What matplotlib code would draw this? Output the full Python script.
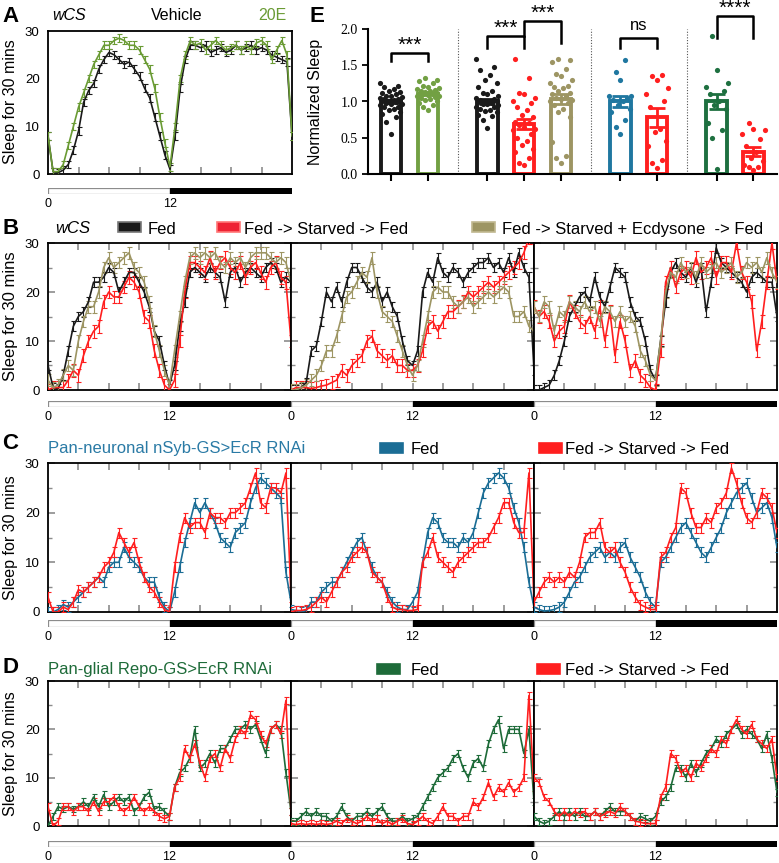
import numpy as np
import matplotlib.pyplot as plt
from matplotlib.patches import Rectangle

plt.rcParams['font.family'] = ['Liberation Sans', 'DejaVu Sans']

# ---------------- data (sleep per 30 min bin, 0..24 h every 0.5 h) ----------------
a_vehicle = [8, 0.5, 0.3, 0.8, 2, 5, 9, 15, 17.5, 19, 22, 24, 25.5, 25, 24, 23, 23.5, 22, 20.5, 18, 16, 12, 8, 4, 1,
             8, 18, 24, 27, 27, 26.5, 27, 25.5, 26, 26.5, 25.5, 26, 27, 26, 26.5, 27, 26, 26.5, 26, 25, 24.5, 24, 23.5, 8]
a_20e = [8, 0.5, 0.5, 2, 6, 10, 14, 17, 20, 23, 25, 27, 27, 28, 28.5, 28, 27, 27, 26, 24, 22, 18, 12, 6.5, 1.5,
         10, 20, 25, 28, 27, 27.5, 26, 27, 28, 27, 26, 26.5, 27, 26, 27, 26, 27.5, 28, 27, 24, 26, 28, 25, 8]

b_fed = [
    [5, 0.5, 0.3, 3, 8, 13, 15, 16, 18, 22, 22, 23, 25, 24, 20, 22, 24, 24, 22, 20, 17, 12, 10, 5, 1,
     5, 13, 18, 24, 25, 24, 23, 25, 24, 23, 18, 24, 25, 22, 24, 25, 24, 23, 25, 26, 25, 22, 23, 22],
    [0, 0, 0.5, 1.5, 8, 9, 14, 20, 18, 21, 18, 22, 25, 25, 23, 21, 20, 22, 18, 20, 17, 15, 10, 6, 5,
     8, 20, 24, 22, 27, 24, 23, 25, 24, 22, 24, 25, 26, 26, 27, 25, 26, 24, 27, 24, 28, 25, 23, 4],
    [0, 0, 0.5, 1, 3, 6, 10, 15, 17, 19, 20, 18, 23, 19, 17, 21, 25, 24, 23, 18, 15, 14, 10, 4, 2,
     10, 18, 24, 26, 24, 23, 25, 22, 25, 16, 22, 29, 26, 25, 24, 23, 22, 20, 23, 24, 23, 22, 22, 15],
]
b_starved = [
    [0, 0.5, 0.5, 0.5, 2, 4, 3, 7, 10, 12, 13, 18, 20, 19, 19, 21, 23, 22, 20, 15, 14, 8, 4, 1, 0,
     2, 10, 20, 26, 26, 25, 24, 27, 24, 26, 27, 25, 24, 26, 23, 25, 26, 24, 22, 25, 26, 23, 22, 10],
    [0, 0.5, 0.5, 0.5, 0.3, 0.5, 0.8, 1, 1.5, 2, 4, 3, 5, 6, 7, 10, 11, 8, 7, 6, 7, 5, 5, 4, 4,
     5, 8, 13, 14, 12, 14, 16, 16, 17, 18, 20, 19, 20, 21, 22, 21, 22, 23, 24, 25, 26, 28, 31, 31],
    [17, 15, 16, 14, 10, 12, 13, 18, 16, 14, 13, 15, 12, 17, 10, 16, 7, 14, 10, 4, 6, 3, 2, 0.5, 0,
     8, 22, 25, 21, 24, 25, 23, 27, 24, 25, 27, 23, 26, 26, 24, 30, 24, 22, 18, 8, 14, 22, 30, 22],
]
b_ecdysone = [
    [2, 0.5, 1, 3, 5, 4, 10, 14, 17, 17, 20, 25, 27, 25, 26, 27, 28, 25, 24, 22, 18, 12, 8, 4, 1,
     8, 15, 22, 27, 28, 27, 28, 27, 28, 26, 25, 27, 26, 27, 25, 27, 28, 28, 28, 27, 26, 27, 26, 22],
    [0, 0, 0.5, 1, 2, 3, 5, 8, 8, 11, 15, 19, 20, 22, 24, 23, 27, 20, 16, 15, 14, 11, 8, 5, 3,
     5, 10, 15, 20, 21, 20, 20, 18, 17, 18, 19, 17, 18, 19, 20, 19, 20, 21, 20, 15, 15, 16, 13, 12],
    [17, 15, 18, 17, 12, 16, 15, 18, 17, 16, 18, 16, 17, 14, 17, 16, 14, 16, 14, 15, 13, 8, 6, 3, 2,
     10, 20, 24, 23, 26, 24, 25, 23, 26, 24, 25, 26, 24, 25, 26, 23, 24, 26, 25, 26, 24, 27, 24, 22],
]

c_fed = [
    [0, 0, 0.5, 1.5, 1, 2, 3, 4, 5, 6, 7, 6, 9, 10, 10, 13, 11, 10, 9, 7, 6, 6, 3, 1, 0,
     4, 9, 14, 18, 22, 20, 22, 20, 18, 15, 14, 13, 16, 17, 18, 22, 25, 27, 26, 25, 24, 23, 8, 2],
    [0.5, 0.3, 0, 0.3, 2, 2, 4, 5, 6, 6, 8, 10, 12, 14, 15, 12, 9, 7, 6, 4, 2, 1, 0.5, 0.5, 2,
     4, 10, 16, 19, 18, 15, 14, 14, 13, 15, 14, 16, 20, 24, 26, 27, 28, 27, 25, 21, 18, 13, 6, 1],
    [1, 0.5, 0.2, 0.3, 0.5, 1, 2, 4, 6, 7, 9, 11, 12, 13, 11, 12, 11, 13, 14, 11, 9, 7, 4, 2, 1,
     10, 11, 13, 15, 17, 18, 16, 14, 12, 11, 13, 15, 17, 20, 22, 24, 25, 26, 23, 20, 21, 22, 19, 13],
]
c_starved = [
    [3, 0, 0, 1, 0.5, 2, 4.5, 4, 5, 6, 7, 9, 10, 12, 16, 14, 12, 14, 10, 7, 5, 4, 2, 0.5, 0,
     9, 15, 19, 17, 18, 18, 16, 20, 19, 19, 18, 20, 20, 21, 22, 25, 28, 22, 21, 25, 25, 24, 28, 3],
    [0, 0.3, 0.3, 0.5, 1, 2, 3, 2, 4, 6, 8, 9, 11, 12, 13, 12, 8, 7, 6, 3, 1, 0.5, 0.5, 0.3, 0.3,
     0.5, 10, 12, 15, 11, 10, 9, 8, 10, 11, 12, 13, 14, 14, 15, 17, 19, 22, 22, 18, 16, 16, 28, 2],
    [2, 4, 6, 7, 6, 7, 6, 8, 7, 10, 15, 16, 16, 18, 13, 12, 13, 10, 8, 5, 3, 1.5, 1, 0.5, 0.5,
     11, 12, 15, 17, 25, 24, 20, 17, 17, 19, 18, 21, 22, 24, 29, 26, 22, 19, 18, 20, 24, 23, 21, 16],
]

d_fed = [
    [0, 2, 4, 3.5, 4, 3.5, 4, 5, 4, 6, 4, 6.5, 4, 5, 6, 5, 6, 3, 4, 6, 7, 3.5, 4, 3, 2,
     8, 11, 12, 14, 20, 12, 13, 15, 13, 16, 16, 18, 20, 20, 21, 20, 21, 18, 15, 20, 21, 20, 11, 3],
    [1, 1, 2, 3, 2, 3, 2, 2, 1, 2, 4, 2, 1, 2, 2, 3, 2, 3, 4, 2, 1, 1, 2, 1, 1.5,
     2, 4, 6, 8, 10, 11, 12, 14, 15, 12, 10, 13, 14, 12, 17, 20, 22, 16, 20, 20, 20, 15, 20, 5],
    [2, 1, 0.5, 1, 2, 3, 2, 3, 2, 3, 2, 2, 3, 2, 3, 4, 3, 3, 3, 2, 1, 2, 1.5, 1, 2,
     5, 6, 8, 12, 12, 10, 13, 11, 13, 15, 16, 18, 17, 19, 20, 21, 19, 20, 19, 18, 16, 19, 14, 7],
]
d_starved = [
    [4, 0, 1, 4, 4, 3, 4, 4, 3, 5, 3, 5, 5, 6, 4, 3, 4, 6, 4, 3, 4, 3, 2, 1.5, 2,
     8, 10, 16, 14, 17, 13, 10, 14, 15, 12, 16, 14, 18, 20, 19, 23, 22, 19, 17, 20, 21, 19, 26, 3],
    [0.5, 0.3, 0.5, 0.3, 0.5, 0.3, 0.5, 0.3, 0.5, 1, 0.5, 1.5, 1, 0.5, 1, 2, 1, 1.5, 0.5, 1, 0.3, 1, 1.5, 0.5, 0.3,
     1, 2, 1, 0.5, 2, 4, 2, 2, 1, 2, 2, 5, 4, 6, 9, 6, 8, 7, 9, 7, 8, 10, 27, 8],
    [10, 9, 6, 5, 3, 2, 3, 2, 3, 2.5, 3, 2, 3, 2, 2.5, 3, 2.5, 4, 3, 2, 1, 0.8, 0.5, 0.5, 0.5,
     6, 8, 15, 14, 11, 12, 10, 13, 12, 14, 16, 15, 18, 17, 20, 22, 20, 19, 21, 18, 17, 16, 18, 10],
]

# panel E: normalized sleep
e_pos = [0, 1, 2.62, 3.62, 4.62, 6.24, 7.24, 8.86, 9.86]
e_means = [1.0, 1.11, 1.0, 0.69, 1.04, 1.0, 0.78, 1.0, 0.31]
e_sems = [0.025, 0.02, 0.03, 0.07, 0.07, 0.07, 0.13, 0.11, 0.06]
e_points = [
    [0.55, 0.72, 0.78, 0.83, 0.85, 0.88, 0.9, 0.92, 0.93, 0.95, 0.96, 0.97, 0.98, 0.99, 1.0, 1.0,
     1.01, 1.02, 1.03, 1.04, 1.05, 1.06, 1.07, 1.08, 1.1, 1.12, 1.13, 1.15, 1.17, 1.2, 1.22, 1.25],
    [0.88, 0.92, 0.95, 0.98, 1.0, 1.02, 1.04, 1.05, 1.06, 1.07, 1.08, 1.09, 1.1, 1.1, 1.11, 1.12,
     1.13, 1.14, 1.15, 1.16, 1.17, 1.18, 1.2, 1.22, 1.25, 1.28, 1.3, 1.32],
    [0.63, 0.75, 0.8, 0.82, 0.85, 0.87, 0.88, 0.9, 0.92, 0.93, 0.95, 0.96, 0.97, 0.98, 0.99, 1.0,
     1.0, 1.01, 1.02, 1.03, 1.05, 1.07, 1.1, 1.12, 1.15, 1.2, 1.25, 1.3, 1.37, 1.43, 1.48, 1.58],
    [0.13, 0.15, 0.22, 0.3, 0.35, 0.4, 0.45, 0.5, 0.55, 0.6, 0.62, 0.65, 0.68, 0.7, 0.72, 0.78,
     0.82, 0.88, 0.92, 0.98, 1.0, 1.05, 1.1, 1.12, 1.33, 1.58],
    [0.15, 0.22, 0.25, 0.44, 0.78, 0.85, 0.9, 0.95, 0.98, 1.0, 1.02, 1.04, 1.05, 1.08, 1.1, 1.12,
     1.15, 1.18, 1.2, 1.22, 1.25, 1.3, 1.35, 1.38, 1.45, 1.55, 1.57, 1.58],
    [0.55, 0.65, 0.75, 0.85, 0.9, 0.95, 1.0, 1.02, 1.05, 1.07, 1.08, 1.3, 1.4, 1.57],
    [0.08, 0.15, 0.2, 0.38, 0.45, 0.58, 0.62, 0.92, 1.0, 1.1, 1.18, 1.3, 1.35, 1.36],
    [0.07, 0.5, 0.6, 0.7, 0.9, 0.95, 1.0, 1.1, 1.15, 1.2, 1.25, 1.44, 1.9],
    [0.05, 0.1, 0.1, 0.12, 0.18, 0.22, 0.3, 0.38, 0.48, 0.55, 0.6, 0.62, 0.7],
]
# (left bar, right bar, bracket top, left leg end, right leg end, label)
e_sig = [(0, 1, 1.67, 1.56, 1.56, '***'),
         (2, 3, 1.90, 1.74, 1.74, '***'),
         (3, 4, 2.11, 1.90, 1.80, '***'),
         (5, 6, 1.88, 1.74, 1.74, 'ns'),
         (7, 8, 2.18, 1.87, 1.87, '****')]

BLACK = '#1a1a1a'
AGREEN = '#6a9b34'
RED = '#ff1f1f'
OLIVE = '#9d9563'
BLUE = '#1b6d95'
DGREEN = '#1e6b39'
e_colors = [BLACK, '#72a043', BLACK, RED, OLIVE, '#1f77a0', RED, '#1e7040', RED]

# ---------------- figure ----------------
W, H = 779, 863
fig = plt.figure(figsize=(W / 100, H / 100), dpi=100)


def rect(l, t, r, b):
    return [l / W, 1 - b / H, (r - l) / W, (b - t) / H]


bg = fig.add_axes([0, 0, 1, 1])
bg.set_xlim(0, W)
bg.set_ylim(H, 0)
bg.axis('off')


def trace(ax, series, colors, sems):
    for vals, col, s in zip(series, colors, sems):
        x = np.arange(len(vals)) * 0.5
        ax.errorbar(x, vals, yerr=s, color=col, lw=1.2, elinewidth=0.8,
                    capsize=1.8, capthick=0.8, zorder=3)
    ax.set_xlim(0, 24)
    ax.set_ylim(0, 30)
    ax.set_xticks(np.arange(3, 24, 3))
    ax.set_yticks([0, 10, 20, 30])
    ax.set_yticks([5, 15, 25], minor=True)
    ax.tick_params(direction='in', color='#8c8c8c', length=5, width=1.2,
                   top=True, right=True, labelbottom=False, labelsize=9.5, pad=6)
    ax.tick_params(which='minor', direction='in', color='#8c8c8c', length=3,
                   width=1, left=True, right=True)
    for sp in ax.spines.values():
        sp.set_linewidth(1.3)
        sp.set_color('black')


def day_strip(l, t, r, b, days, labels):
    ax = fig.add_axes(rect(l, t, r, b))
    for d in range(days):
        ax.barh(0.5, 12, left=24 * d, height=1, color='white', edgecolor='#8c8c8c', lw=0.9)
        ax.barh(0.5, 12, left=24 * d + 12, height=1, color='black', edgecolor='black', lw=0.9)
    ax.set_xlim(0, 24 * days)
    ax.set_ylim(0, 1)
    ax.set_yticks([])
    ax.set_xticks(np.arange(len(labels)) * 12)
    ax.set_xticklabels(labels, fontsize=9)
    ax.tick_params(length=0, pad=3)
    for sp in ax.spines.values():
        sp.set_visible(False)


# ---- panel A ----
axA = fig.add_axes(rect(48, 31, 292, 174))
trace(axA, [a_vehicle, a_20e], [BLACK, AGREEN], [0.8, 0.8])
axA.tick_params(top=False, right=False, left=False)
axA.tick_params(which='minor', left=False, right=False)
day_strip(48, 188, 292, 194, 1, ['0', '12'])
bg.text(2, 16, 'A', fontsize=16, fontweight='bold', va='center')
bg.text(52, 16, 'wCS', fontsize=11.5, style='italic', va='center')
bg.text(177, 16, 'Vehicle', fontsize=11.5, ha='center', va='center')
bg.text(287, 16, '20E', fontsize=11.5, ha='right', va='center', color=AGREEN)
bg.text(11, 102, 'Sleep for 30 mins', fontsize=11.5, rotation=90, ha='center', va='center')

# ---- rows B, C, D ----
edges = [48, 291, 534, 777]
rows = [
    (243, 390, [b_fed, b_starved, b_ecdysone], [BLACK, RED, OLIVE], [1.0, 1.3, 1.2], 401, 407),
    (463, 612, [c_fed, c_starved], [BLUE, RED], [1.0, 1.0], 620, 627),
    (681, 826, [d_fed, d_starved], [DGREEN, RED], [0.7, 0.7], 841, 847),
]
for top, bot, groups, cols, sems, st, sb in rows:
    for d in range(3):
        ax = fig.add_axes(rect(edges[d], top, edges[d + 1], bot))
        trace(ax, [g[d] for g in groups], cols, sems)
        if d > 0:
            ax.tick_params(labelleft=False)
    day_strip(48, st, 777, sb, 3, ['0', '12', '0', '12', '0', '12'])
    bg.text(11, (top + bot) / 2, 'Sleep for 30 mins', fontsize=12 if top == 243 else 11.5,
            rotation=90, ha='center', va='center')


def legend_patch(x, y, color, edge):
    bg.add_patch(Rectangle((x, y - 5), 23, 10, facecolor=color, edgecolor=edge, lw=1.2))


# B header
bg.text(2, 228, 'B', fontsize=16, fontweight='bold', va='center')
bg.text(55, 228, 'wCS', fontsize=12, style='italic', va='center')
legend_patch(118, 227, BLACK, '#777777')
bg.text(148, 229, 'Fed', fontsize=12, va='center')
legend_patch(217, 227, '#ee2233', '#ff7777')
bg.text(244, 229, 'Fed -> Starved -> Fed', fontsize=12, va='center')
legend_patch(472, 227, OLIVE, '#c0b890')
bg.text(502, 229, 'Fed -> Starved + Ecdysone  -> Fed', fontsize=12, va='center')

# C header
bg.text(2, 443, 'C', fontsize=16, fontweight='bold', va='center')
bg.text(48, 448, 'Pan-neuronal nSyb-GS>EcR RNAi', fontsize=12, va='center', color='#2a7aa5')
legend_patch(380, 448, BLUE, BLUE)
bg.text(411, 449, 'Fed', fontsize=12, va='center')
legend_patch(539, 448, RED, RED)
bg.text(565, 449, 'Fed -> Starved -> Fed', fontsize=12, va='center')

# D header
bg.text(2, 667, 'D', fontsize=16, fontweight='bold', va='center')
bg.text(48, 669, 'Pan-glial Repo-GS>EcR RNAi', fontsize=12, va='center', color=DGREEN)
legend_patch(377, 669, DGREEN, DGREEN)
bg.text(411, 670, 'Fed', fontsize=12, va='center')
legend_patch(537, 669, RED, RED)
bg.text(565, 670, 'Fed -> Starved -> Fed', fontsize=12, va='center')

# ---- panel E ----
axE = fig.add_axes(rect(368, 29, 777, 174))
offs = [0, -0.13, 0.13, -0.25, 0.25, -0.07, 0.07, -0.19, 0.19, -0.3, 0.3]
for p, m, s, pts, c in zip(e_pos, e_means, e_sems, e_points, e_colors):
    axE.bar(p, m, width=0.56, facecolor='white', edgecolor=c, linewidth=2.8, zorder=2)
    axE.errorbar(p, m, yerr=s, fmt='none', ecolor=c, elinewidth=2, capsize=6, capthick=2, zorder=3)
    xs = [p + offs[i % len(offs)] for i in range(len(pts))]
    axE.scatter(xs, pts, s=14, color=c, zorder=4, linewidths=0)
for xv in [1.83, 5.43, 8.05]:
    axE.axvline(xv, ymin=0, ymax=1, color='#555555', ls=(0, (1, 1.5)), lw=0.8)
for i, j, yt, y1, y2, lab in e_sig:
    x1, x2 = e_pos[i], e_pos[j]
    axE.plot([x1, x1, x2, x2], [y1, yt, yt, y2], color='black', lw=1.8, clip_on=False)
    if lab == 'ns':
        axE.text((x1 + x2) / 2, yt + 0.06, lab, ha='center', va='bottom', fontsize=12, clip_on=False)
    else:
        axE.text((x1 + x2) / 2, yt - 0.02, lab, ha='center', va='bottom', fontsize=15, clip_on=False)
axE.set_xlim(-0.63, 10.5)
axE.set_ylim(0, 2.0)
axE.set_yticks([0, 0.5, 1.0, 1.5, 2.0])
axE.set_yticklabels(['0.0', '0.5', '1.0', '1.5', '2.0'], family='Liberation Serif', fontsize=10)
axE.set_xticks(e_pos)
axE.set_xticklabels([])
axE.tick_params(axis='x', length=5, width=1.5, direction='out')
axE.tick_params(axis='y', length=4, width=1.3, direction='out')
axE.spines['top'].set_visible(False)
axE.spines['right'].set_visible(False)
for sp in ['left', 'bottom']:
    axE.spines[sp].set_linewidth(1.5)
bg.text(310, 16, 'E', fontsize=16, fontweight='bold', va='center')
bg.text(316, 102, 'Normalized Sleep', fontsize=11.5, rotation=90, ha='center', va='center')

fig.savefig('out.png', dpi=100)
